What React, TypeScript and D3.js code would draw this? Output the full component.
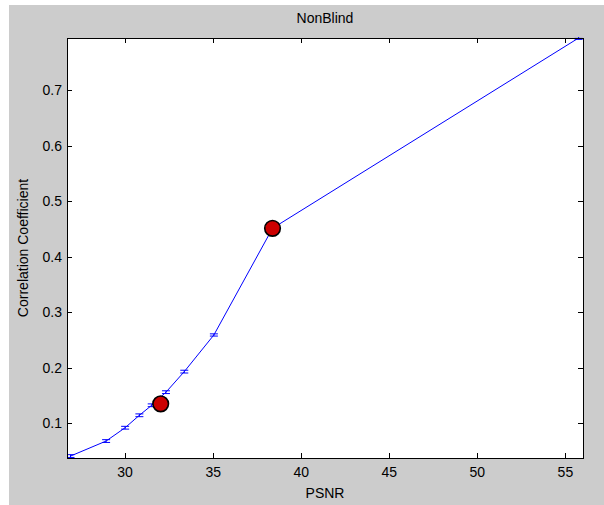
import React from "react";
import * as d3 from "d3";

const psnr = [26.9, 28.92, 30.0, 30.81, 31.51, 32.32, 33.36, 35.04, 38.37, 55.75];
const corr = [0.041, 0.068, 0.092, 0.1144, 0.1324, 0.156, 0.193, 0.259, 0.451, 0.7936];
const errs = [0.0025, 0.0025, 0.0025, 0.0025, 0.0025, 0.0025, 0.0025, 0.002, 0.0025, 0.0025];
const markX = [32.02, 38.37];
const markY = [0.135, 0.451];
const xTicks = [30, 35, 40, 45, 50, 55];
const yTicks = [0.1, 0.2, 0.3, 0.4, 0.5, 0.6, 0.7];
const xDomain = [26.7, 56];
const yDomain = [0.0375, 0.7936];

export default function App() {
  const W = 604, H = 505;
  const L = 67, R = 583, T = 38, B = 458;
  const x = d3.scaleLinear().domain(xDomain).range([L, R]);
  const y = d3.scaleLinear().domain(yDomain).range([B, T]);
  const line = d3.line<number>().x((_, i) => x(psnr[i])).y((_, i) => y(corr[i]));
  const font = "'Liberation Sans', Arial, sans-serif";
  const tk = 5;
  const capW = 4;
  return (
    <svg width={W} height={H} style={{ position: "absolute", left: 0, top: 0 }} fontFamily={font}>
      <rect x={0} y={0} width={W} height={H} fill="#ffffff" />
      <rect x={9} y={5} width={W - 9} height={H - 5} fill="#cccccc" />
      <rect x={L} y={T} width={R - L} height={B - T} fill="#ffffff" />
      <defs>
        <clipPath id="plotclip">
          <rect x={L} y={T - 1} width={R - L} height={B - T + 2} />
        </clipPath>
      </defs>
      <g clipPath="url(#plotclip)">
        <path d={line(corr) || ""} fill="none" stroke="#0000ff" strokeWidth={1} />
        {psnr.map((p, i) => {
          const cx = x(p);
          const y1 = y(corr[i] + errs[i]);
          const y2 = y(corr[i] - errs[i]);
          return (
            <g key={i} stroke="#0000ff" strokeWidth={1}>
              <line x1={cx} x2={cx} y1={y1} y2={y2} />
              <line x1={cx - capW} x2={cx + capW} y1={y1} y2={y1} />
              <line x1={cx - capW} x2={cx + capW} y1={y2} y2={y2} />
            </g>
          );
        })}
        {markX.map((mx, i) => (
          <circle key={i} cx={x(mx)} cy={y(markY[i])} r={7.8} fill="#cc0000" stroke="#000000" strokeWidth={1.6} />
        ))}
      </g>
      <g stroke="#000000" strokeWidth={1} shapeRendering="crispEdges">
        <rect x={L} y={T} width={R - L} height={B - T} fill="none" />
        {xTicks.map((t) => (
          <g key={t}>
            <line x1={Math.round(x(t)) + 0.5} x2={Math.round(x(t)) + 0.5} y1={B} y2={B - tk} />
            <line x1={Math.round(x(t)) + 0.5} x2={Math.round(x(t)) + 0.5} y1={T} y2={T + tk} />
          </g>
        ))}
        {yTicks.map((t) => (
          <g key={t}>
            <line x1={L} x2={L + tk} y1={Math.round(y(t)) + 0.5} y2={Math.round(y(t)) + 0.5} />
            <line x1={R} x2={R - tk} y1={Math.round(y(t)) + 0.5} y2={Math.round(y(t)) + 0.5} />
          </g>
        ))}
      </g>
      <g fontSize={14} fill="#000000">
        {xTicks.map((t) => (
          <text key={t} x={x(t)} y={477} textAnchor="middle">{t}</text>
        ))}
        {yTicks.map((t) => (
          <text key={t} x={62} y={y(t) + 5} textAnchor="end">{t.toFixed(1)}</text>
        ))}
        <text x={(L + R) / 2} y={498} textAnchor="middle">PSNR</text>
        <text x={(L + R) / 2} y={23} textAnchor="middle">NonBlind</text>
        <text transform={`translate(28, ${(T + B) / 2}) rotate(-90)`} textAnchor="middle">Correlation Coefficient</text>
      </g>
    </svg>
  );
}
